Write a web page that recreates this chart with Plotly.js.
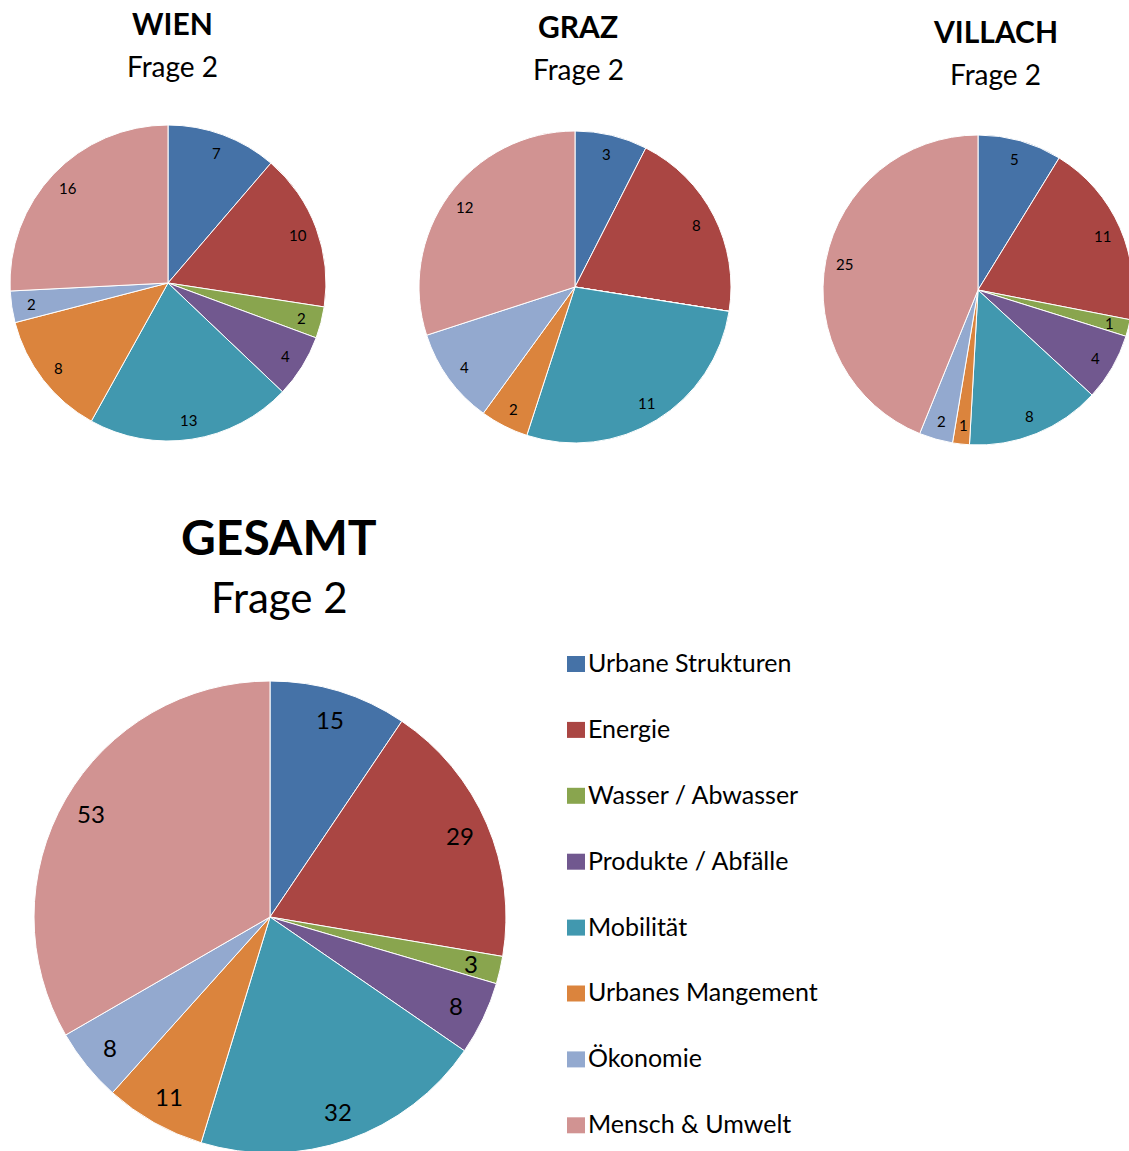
<!DOCTYPE html>
<html><head><meta charset="utf-8">
<script src="https://cdn.plot.ly/plotly-3.0.1.min.js"></script>
<style>html,body{margin:0;padding:0;overflow:hidden;background:#fff}#chart{width:1140px;height:1160px}</style>
</head><body><div id="chart"></div>
<script>
// ---- data ----
const categories = ['Urbane Strukturen','Energie','Wasser / Abwasser','Produkte / Abfälle','Mobilität','Urbanes Mangement','Ökonomie','Mensch & Umwelt'];
const wienValues    = [7, 10, 2, 4, 13, 8, 2, 16];
const grazValues    = [3, 8, 0, 0, 11, 2, 4, 12];
const villachValues = [5, 11, 1, 4, 8, 1, 2, 25];
const gesamtValues  = [15, 29, 3, 8, 32, 11, 8, 53];
const chartTitles = ['WIEN', 'GRAZ', 'VILLACH', 'GESAMT'];
const subTitle = 'Frage 2';

// ---- styles ----
const sliceColors = ['#4572A7','#AA4643','#89A54E','#71588F','#4198AF','#DB843D','#93A9CF','#D19392'];
const W = 1140, H = 1160;
const FONT = 'Lato, Carlito, "Open Sans", sans-serif';

const panels = [
  {values: wienValues,    title: chartTitles[0], cx: 168, cy: 283, r: 158, labelSize: 15, tx: 172, ty: 23, sy: 66, tSize: 30, sSize: 28},
  {values: grazValues,    title: chartTitles[1], cx: 575, cy: 287, r: 156, labelSize: 15, tx: 578, ty: 26, sy: 69, tSize: 30, sSize: 28},
  {values: villachValues, title: chartTitles[2], cx: 978, cy: 290, r: 155, labelSize: 15, tx: 995, ty: 31, sy: 74, tSize: 30, sSize: 28},
  {values: gesamtValues,  title: chartTitles[3], cx: 270, cy: 917, r: 236, labelSize: 24, tx: 279, ty: 536, sy: 597, tSize: 48, sSize: 42}
];
const LABEL_R = 0.875;

const px = x => x / W;
const py = y => 1 - y / H;

const data = [];
const annotations = [];
const shapes = [];

panels.forEach(p => {
  data.push({
    type: 'pie',
    labels: categories,
    values: p.values,
    sort: false,
    direction: 'clockwise',
    rotation: 0,
    textinfo: 'none',
    hoverinfo: 'label+value',
    marker: {colors: sliceColors, line: {color: '#ffffff', width: 1}},
    domain: {x: [px(p.cx - p.r), px(p.cx + p.r)], y: [py(p.cy + p.r), py(p.cy - p.r)]},
    showlegend: false
  });
  const total = p.values.reduce((a, b) => a + b, 0);
  let cum = 0;
  p.values.forEach(v => {
    if (v > 0) {
      const th = (cum + v / 2) / total * 2 * Math.PI;
      annotations.push({
        text: String(v), showarrow: false, xref: 'paper', yref: 'paper',
        x: px(p.cx + LABEL_R * p.r * Math.sin(th)),
        y: py(p.cy - LABEL_R * p.r * Math.cos(th)),
        xanchor: 'center', yanchor: 'middle',
        font: {family: FONT, size: p.labelSize, color: '#000'}
      });
    }
    cum += v;
  });
  annotations.push({
    text: '<b>' + p.title + '</b>', showarrow: false, xref: 'paper', yref: 'paper',
    x: px(p.tx), y: py(p.ty), xanchor: 'center', yanchor: 'middle',
    font: {family: FONT, size: p.tSize, color: '#000'}
  });
  annotations.push({
    text: subTitle, showarrow: false, xref: 'paper', yref: 'paper',
    x: px(p.tx), y: py(p.sy), xanchor: 'center', yanchor: 'middle',
    font: {family: FONT, size: p.sSize, color: '#000'}
  });
});

// legend built from categories
const LEG_X = 567, LEG_Y0 = 664, LEG_DY = 65.9;
categories.forEach((c, i) => {
  const yc = LEG_Y0 + i * LEG_DY;
  shapes.push({
    type: 'rect', xref: 'paper', yref: 'paper',
    x0: px(LEG_X), x1: px(LEG_X + 18), y0: py(yc + 8), y1: py(yc - 8),
    fillcolor: sliceColors[i], line: {width: 0}
  });
  annotations.push({
    text: c, showarrow: false, xref: 'paper', yref: 'paper',
    x: px(LEG_X + 19), y: py(yc - 2), xanchor: 'left', yanchor: 'middle',
    font: {family: FONT, size: 25, color: '#000'}
  });
});

Plotly.newPlot('chart', data, {
  width: W, height: H,
  margin: {l: 0, r: 0, t: 0, b: 0, pad: 0},
  paper_bgcolor: '#ffffff',
  showlegend: false,
  annotations: annotations,
  shapes: shapes
}, {displayModeBar: false, staticPlot: true});
</script>
</body></html>
